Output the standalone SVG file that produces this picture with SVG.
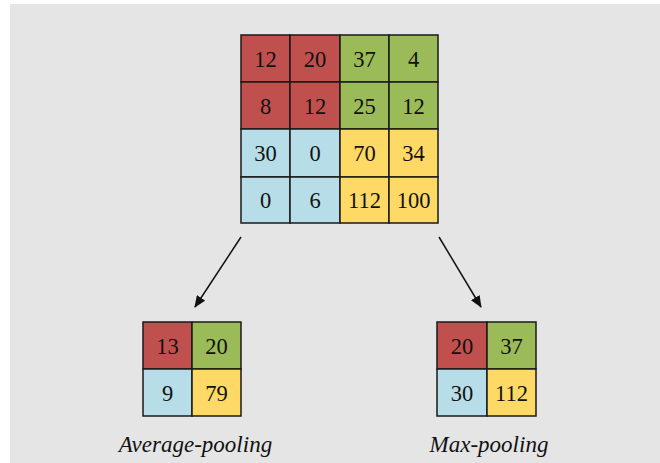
<svg xmlns="http://www.w3.org/2000/svg" width="660" height="463" viewBox="0 0 660 463">
<style>
.c{stroke:#1a1a1a;stroke-width:1.5}
.r{fill:#c0504d}.g{fill:#9bbb59}.b{fill:#b7dde8}.y{fill:#ffd966}
.n{font-family:"Liberation Serif",serif;font-size:22.5px;fill:#111;text-anchor:middle}
.l{font-family:"Liberation Serif",serif;font-style:italic;font-size:23px;fill:#111;text-anchor:middle}
.a{stroke:#111;stroke-width:1.5;fill:none;marker-end:url(#ah)}
</style>
<defs>
<marker id="ah" viewBox="0 0 12 10" refX="11" refY="5" markerWidth="12" markerHeight="10" markerUnits="userSpaceOnUse" orient="auto">
<path d="M0,0 L12,5 L0,10 Z" fill="#111"/>
</marker>
</defs>
<rect x="10" y="4" width="650" height="459" fill="#e5e5e5"/>
<g id="input">
<rect class="c r" x="241" y="35" width="49" height="47"/>
<rect class="c r" x="290" y="35" width="50" height="47"/>
<rect class="c g" x="340" y="35" width="49" height="47"/>
<rect class="c g" x="389" y="35" width="49" height="47"/>
<rect class="c r" x="241" y="82" width="49" height="47"/>
<rect class="c r" x="290" y="82" width="50" height="47"/>
<rect class="c g" x="340" y="82" width="49" height="47"/>
<rect class="c g" x="389" y="82" width="49" height="47"/>
<rect class="c b" x="241" y="129" width="49" height="48"/>
<rect class="c b" x="290" y="129" width="50" height="48"/>
<rect class="c y" x="340" y="129" width="49" height="48"/>
<rect class="c y" x="389" y="129" width="49" height="48"/>
<rect class="c b" x="241" y="177" width="49" height="46"/>
<rect class="c b" x="290" y="177" width="50" height="46"/>
<rect class="c y" x="340" y="177" width="49" height="46"/>
<rect class="c y" x="389" y="177" width="49" height="46"/>
<text class="n" x="265.5" y="66.5">12</text>
<text class="n" x="315" y="66.5">20</text>
<text class="n" x="364.5" y="66.5">37</text>
<text class="n" x="413.5" y="66.5">4</text>
<text class="n" x="265.5" y="113.5">8</text>
<text class="n" x="315" y="113.5">12</text>
<text class="n" x="364.5" y="113.5">25</text>
<text class="n" x="413.5" y="113.5">12</text>
<text class="n" x="265.5" y="160.5">30</text>
<text class="n" x="315" y="160.5">0</text>
<text class="n" x="364.5" y="160.5">70</text>
<text class="n" x="413.5" y="160.5">34</text>
<text class="n" x="265.5" y="207.5">0</text>
<text class="n" x="315" y="207.5">6</text>
<text class="n" x="364.5" y="207.5">112</text>
<text class="n" x="413.5" y="207.5">100</text>
</g>
<g id="average">
<rect class="c r" x="143" y="322" width="49" height="47"/>
<rect class="c g" x="192" y="322" width="49" height="47"/>
<rect class="c b" x="143" y="369" width="49" height="47"/>
<rect class="c y" x="192" y="369" width="49" height="47"/>
<text class="n" x="167.5" y="353.5">13</text>
<text class="n" x="216.5" y="353.5">20</text>
<text class="n" x="167.5" y="400.5">9</text>
<text class="n" x="216.5" y="400.5">79</text>
<text class="l" x="195.5" y="452">Average-pooling</text>
</g>
<g id="max">
<rect class="c r" x="437" y="322" width="50" height="47"/>
<rect class="c g" x="487" y="322" width="49" height="47"/>
<rect class="c b" x="437" y="369" width="50" height="47"/>
<rect class="c y" x="487" y="369" width="49" height="47"/>
<text class="n" x="462" y="353.5">20</text>
<text class="n" x="511.5" y="353.5">37</text>
<text class="n" x="462" y="400.5">30</text>
<text class="n" x="511.5" y="400.5">112</text>
<text class="l" x="489" y="452">Max-pooling</text>
</g>
<g id="connectors">
<line class="a" x1="241" y1="237" x2="195" y2="307"/>
<line class="a" x1="439" y1="237" x2="481" y2="307"/>
</g>
</svg>
